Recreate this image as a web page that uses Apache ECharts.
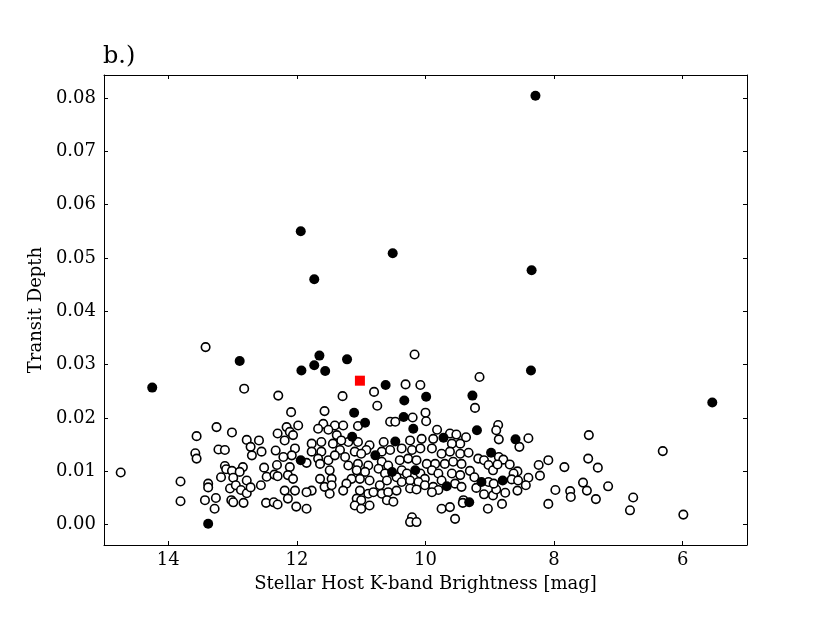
<!DOCTYPE html>
<html>
<head>
<meta charset="utf-8">
<title>Transit Depth vs K-band Brightness</title>
<script src="https://cdn.jsdelivr.net/npm/echarts@6/dist/echarts.min.js"></script>
<style>
  html, body { margin: 0; padding: 0; background: #fff; }
  #chart { width: 830px; height: 623px; }
</style>
</head>
<body>
<div id="chart"></div>
<script>
// [K mag, transit depth]
const openPoints = [
  [13.42,0.0333],[12.82,0.0255],[12.29,0.0242],[13.25,0.0183],[13.01,0.0173],[13.56,0.0166],[12.78,0.0159],[12.59,0.0158],
  [12.30,0.0171],[12.72,0.0146],[13.22,0.0141],[13.12,0.0140],[12.55,0.0137],[12.33,0.0139],[13.58,0.0134],[13.56,0.0124],
  [12.70,0.0130],[14.74,0.0098],[13.12,0.0110],[13.10,0.0104],[13.01,0.0101],[12.84,0.0108],[12.89,0.0099],[12.51,0.0107],
  [12.31,0.0112],[13.18,0.0089],[12.99,0.0088],[12.78,0.0083],[12.47,0.0090],[12.35,0.0094],[12.30,0.0091],[13.81,0.0081],
  [13.38,0.0077],[13.38,0.0070],[13.04,0.0068],[12.95,0.0074],[12.87,0.0065],[12.78,0.0059],[12.72,0.0070],[12.56,0.0074],
  [13.81,0.0044],[13.43,0.0046],[13.26,0.0050],[13.28,0.0030],[13.02,0.0046],[12.99,0.0042],[12.83,0.0041],[12.48,0.0041],
  [12.36,0.0042],[12.30,0.0038],
  [10.17,0.0319],[10.31,0.0263],[10.08,0.0262],[10.80,0.0249],[11.29,0.0241],[10.75,0.0223],
  [12.09,0.0211],[11.57,0.0213],[11.05,0.0185],[12.16,0.0183],[11.98,0.0186],[11.59,0.0189],[11.41,0.0186],[11.28,0.0186],
  [11.67,0.0180],[11.51,0.0178],[12.11,0.0174],[12.06,0.0168],[11.38,0.0168],[11.20,0.0155],[11.31,0.0158],[11.05,0.0155],
  [11.77,0.0152],[11.62,0.0155],[11.44,0.0152],[12.19,0.0158],[12.03,0.0143],[10.87,0.0149],[11.77,0.0137],[11.62,0.0137],
  [11.33,0.0140],[11.10,0.0137],[10.92,0.0140],[11.00,0.0133],[12.08,0.0130],[12.21,0.0127],[11.67,0.0124],[11.51,0.0121],
  [11.85,0.0116],[11.41,0.0130],[11.25,0.0127],[12.11,0.0108],[12.14,0.0093],[11.49,0.0102],[11.64,0.0114],[11.20,0.0111],
  [11.05,0.0114],[10.89,0.0111],[11.07,0.0102],[10.94,0.0099],[12.06,0.0086],[11.64,0.0086],[11.46,0.0086],[11.15,0.0086],
  [11.02,0.0086],[11.23,0.0077],[10.87,0.0083],[12.19,0.0064],[12.03,0.0064],[11.57,0.0071],[11.46,0.0074],[11.77,0.0064],
  [11.85,0.0061],[11.28,0.0064],[11.49,0.0058],[11.02,0.0064],[10.89,0.0058],[11.07,0.0049],[11.00,0.0046],[12.14,0.0049],
  [12.01,0.0034],[11.85,0.0030],[11.10,0.0036],[11.00,0.0030],[10.87,0.0036],
  [10.00,0.0210],[10.55,0.0193],[10.47,0.0193],[10.20,0.0201],[9.99,0.0194],[9.82,0.0178],[9.62,0.0171],[9.52,0.0169],
  [9.46,0.0152],[9.59,0.0152],[9.88,0.0161],[10.65,0.0155],[10.24,0.0158],[10.06,0.0161],[10.68,0.0137],[10.55,0.0140],
  [10.37,0.0143],[10.21,0.0140],[10.08,0.0143],[9.90,0.0143],[9.75,0.0133],[9.62,0.0137],[9.46,0.0133],[10.68,0.0118],
  [10.58,0.0111],[10.40,0.0121],[10.27,0.0124],[10.14,0.0121],[9.98,0.0114],[9.85,0.0114],[9.70,0.0114],[9.57,0.0118],
  [9.44,0.0114],[10.73,0.0105],[10.63,0.0096],[10.37,0.0102],[10.29,0.0096],[10.08,0.0096],[10.01,0.0086],[9.90,0.0102],
  [9.80,0.0096],[9.75,0.0083],[9.59,0.0096],[9.46,0.0093],[10.71,0.0074],[10.60,0.0083],[10.45,0.0089],[10.37,0.0080],
  [10.24,0.0083],[10.11,0.0080],[10.01,0.0074],[9.88,0.0071],[9.80,0.0065],[9.54,0.0077],[9.44,0.0071],[10.81,0.0061],
  [10.68,0.0058],[10.58,0.0061],[10.45,0.0064],[10.24,0.0068],[10.14,0.0066],[9.90,0.0061],[9.41,0.0046],[10.60,0.0046],
  [10.50,0.0043],[9.75,0.0030],[9.62,0.0033],[9.54,0.0011],[10.21,0.0014],[10.24,0.0005],[10.14,0.0005],
  [9.16,0.0277],[9.23,0.0219],[8.87,0.0187],[8.90,0.0177],[8.86,0.0160],[9.37,0.0164],[9.33,0.0135],[8.40,0.0162],
  [8.54,0.0146],[7.46,0.0168],[9.18,0.0124],[9.09,0.0121],[9.02,0.0112],[8.95,0.0102],[8.86,0.0127],[8.79,0.0122],
  [8.88,0.0113],[8.69,0.0113],[8.57,0.0100],[8.63,0.0096],[8.66,0.0085],[8.56,0.0083],[8.40,0.0088],[8.44,0.0074],
  [8.57,0.0064],[8.24,0.0112],[8.09,0.0121],[8.22,0.0092],[7.84,0.0108],[7.47,0.0124],[7.32,0.0107],[7.98,0.0065],
  [7.75,0.0063],[7.74,0.0052],[7.55,0.0079],[7.49,0.0064],[7.35,0.0048],[7.16,0.0072],[8.09,0.0039],[6.77,0.0051],
  [6.82,0.0027],[9.31,0.0101],[9.24,0.0089],[9.21,0.0069],[9.09,0.0057],[8.95,0.0055],[8.90,0.0066],[8.76,0.0060],
  [9.02,0.0080],[8.94,0.0077],[8.81,0.0039],[9.03,0.0030],[9.42,0.0041],
  [6.31,0.0138],[5.99,0.0019]
];

const filledPoints = [
  [12.89,0.0307],[14.25,0.0257],[13.38,0.0002],
  [11.65,0.0317],[11.73,0.0299],[11.93,0.0289],[11.56,0.0288],[11.22,0.0310],[10.62,0.0262],[10.33,0.0233],[9.99,0.0240],
  [11.11,0.0210],[10.94,0.0191],[11.14,0.0165],[11.94,0.0121],
  [10.34,0.0202],[10.19,0.0180],[9.72,0.0163],[10.47,0.0156],[10.78,0.0130],[10.52,0.0099],[10.16,0.0102],[9.67,0.0072],
  [8.36,0.0289],[9.27,0.0242],[9.20,0.0177],[8.60,0.0160],[8.98,0.0135],[9.13,0.0080],[8.80,0.0083],[9.32,0.0042],
  [5.54,0.0229],
  [8.29,0.0804],[11.94,0.0550],[10.51,0.0509],[8.35,0.0477],[11.73,0.0460]
];

const highlightPoint = [[11.02,0.0270]];

const xTicks = [6, 8, 10, 12, 14];
const yTicks = [0, 0.01, 0.02, 0.03, 0.04, 0.05, 0.06, 0.07, 0.08];

const serif = 'DejaVu Serif';
const chart = echarts.init(document.getElementById('chart'));

function xAxisCfg(pos, labels) {
  return {
    type: 'value', position: pos, min: 5, max: 15, inverse: true,
    axisLine: { show: true, onZero: false, lineStyle: { color: '#000', width: 1 } },
    axisTick: { show: true, inside: true, length: 4, customValues: xTicks, lineStyle: { color: '#000' } },
    axisLabel: { show: labels, customValues: xTicks, color: '#000', fontFamily: serif, fontSize: 18, margin: 6 },
    splitLine: { show: false },
    name: labels ? 'Stellar Host K-band Brightness [mag]' : '',
    nameLocation: 'middle', nameGap: 30,
    nameTextStyle: { color: '#000', fontFamily: serif, fontSize: 18 }
  };
}
function yAxisCfg(pos, labels) {
  return {
    type: 'value', position: pos, min: -0.0038, max: 0.0843,
    axisLine: { show: true, onZero: false, lineStyle: { color: '#000', width: 1 } },
    axisTick: { show: true, inside: true, length: 4, customValues: yTicks, lineStyle: { color: '#000' } },
    axisLabel: { show: labels, customValues: yTicks, color: '#000', fontFamily: serif, fontSize: 18, margin: 8,
      formatter: v => v.toFixed(2) },
    splitLine: { show: false },
    name: labels ? 'Transit Depth' : '',
    nameLocation: 'middle', nameGap: 56, nameRotate: 90,
    nameTextStyle: { color: '#000', fontFamily: serif, fontSize: 18 }
  };
}

const option = {
  backgroundColor: '#fff',
  animation: false,
  title: {
    text: 'b.)', left: 103, top: 45, padding: 0,
    textStyle: { color: '#000', fontFamily: serif, fontSize: 24, fontWeight: 'normal' }
  },
  grid: { left: 104, right: 83, top: 75, bottom: 78 },
  xAxis: [xAxisCfg('bottom', true), xAxisCfg('top', false)],
  yAxis: [yAxisCfg('left', true), yAxisCfg('right', false)],
  series: [
    {
      type: 'scatter', data: openPoints, symbol: 'circle', symbolSize: 8.5,
      itemStyle: { color: '#fff', borderColor: '#000', borderWidth: 1.6, opacity: 1 },
      silent: true
    },
    {
      type: 'scatter', data: filledPoints, symbol: 'circle', symbolSize: 10,
      itemStyle: { color: '#000', opacity: 1 },
      silent: true
    },
    {
      type: 'scatter', data: highlightPoint, symbol: 'rect', symbolSize: 10,
      itemStyle: { color: '#ff0000', opacity: 1 },
      silent: true
    }
  ]
};
chart.setOption(option);
</script>
</body>
</html>
